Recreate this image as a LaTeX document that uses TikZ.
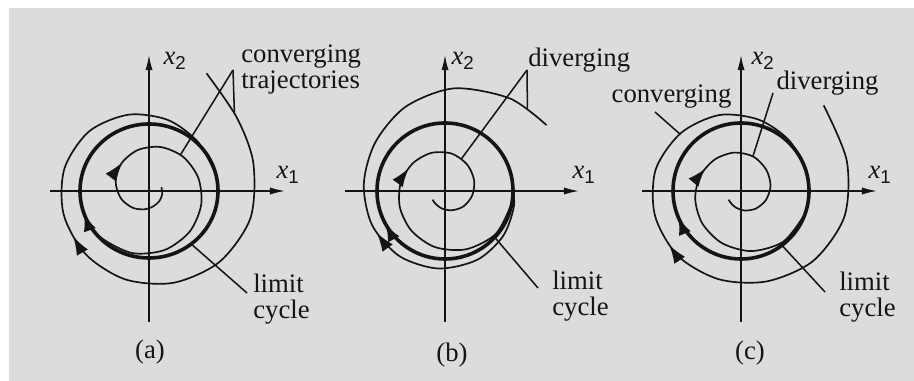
\documentclass[tikz,border=0pt]{standalone}
\usepackage{fontspec}
\setmainfont{Liberation Serif}
\setsansfont{Liberation Sans}
\newfontfamily\lblserif{Liberation Serif}
\usepackage{xcolor}
\definecolor{plategray}{HTML}{DCDCDC}
\definecolor{inkblack}{HTML}{141414}
\usepackage{tikz}
\usetikzlibrary{arrows.meta, decorations.markings}
\newcommand{\xlab}[1]{{\itshape x}\textsubscript{\sffamily #1}}

\begin{document}
\begin{tikzpicture}[x=0.25mm, y=0.25mm,
  axis/.style={draw=inkblack, line width=0.36mm, -{Latex[length=3.8mm, width=1.8mm]}},
  traj/.style={draw=inkblack, line width=0.42mm},
  limcyc/.style={draw=inkblack, line width=0.9mm},
  ptr/.style={draw=inkblack, line width=0.38mm},
  flow/.style={postaction={decorate}, decoration={markings,
    mark=at position #1 with {\arrow{Latex[length=4.6mm, width=3.2mm]}}}},
  lbl/.style={font=\lblserif\fontsize{19}{18.5}\selectfont, inner sep=0pt, align=left, text=inkblack},
  axlbl/.style={font=\lblserif\fontsize{19}{18.5}\selectfont, inner sep=0pt, text=inkblack}
]
\useasboundingbox (0,0) rectangle (914,381);
\fill[white] (0,0) rectangle (914,381);
\fill[plategray] (9,0) rectangle (914,373);

% (a) stable limit cycle
\begin{scope}[shift={(149,190)}]
\draw[axis] (-99,0) -- (136,0);
\draw[axis] (0,-131) -- (0,136);
\node[axlbl] (a-x1) at (139,16) {\xlab{1}};
\node[axlbl] (a-x2) at (26,130) {\xlab{2}};
\draw[limcyc, flow=0.448] (69,0) arc[start angle=0, end angle=-360, x radius=69, y radius=67];
\draw[traj, flow=0.262] plot[smooth] coordinates {(17:13) (-15:13.6) (-45:14.5) (-75:16) (-105:19)
  (-135:23.5) (-165:29) (-195:34.5) (-225:39) (-255:42.5) (-285:45.5) (-315:48.3) (-345:51)
  (-375:54) (-405:57.5) (-435:61) (-465:64.3) (-495:66.8) (-515:68.5)};
\draw[traj, flow=0.583] plot[smooth] coordinates {(64:131) (40:114.5) (15:108) (-15:105) (-45:100)
  (-75:95) (-105:91.5) (-135:89.5) (-165:88.5) (-195:87.5) (-225:84.5) (-255:79) (-285:73.5)
  (-315:69.3) (-345:68.8)};
\coordinate (a-apex) at (84,121);
\coordinate (a-in) at (-311:48);
\coordinate (a-out) at (42:115);
\coordinate (a-lc) at (-51.5:67.8);
\coordinate (a-lcend) at (98,-102);
\node[lbl, anchor=west] (a-conv) at (92,121) {converging\\trajectories};
\node[lbl, anchor=west] (a-limit) at (104,-108.5) {limit\\cycle};
\draw[ptr] (a-apex) -- (a-in);
\draw[ptr] (a-apex) -- (a-out);
\draw[ptr] (a-lc) -- (a-lcend);
\node[lbl] (a-cap) at (1,-161) {(a)};
\end{scope}

% (b) unstable limit cycle
\begin{scope}[shift={(445,190)}]
\draw[axis] (-100,0) -- (134,0);
\draw[axis] (0,-131) -- (0,136);
\node[axlbl] (b-x1) at (139,16) {\xlab{1}};
\node[axlbl] (b-x2) at (18,130) {\xlab{2}};
\draw[limcyc, flow=0.422] (68,0) arc[start angle=0, end angle=-360, radius=68];
\draw[traj, flow=0.567] plot[smooth] coordinates {(-10:68) (-40:66.5) (-70:62) (-100:57) (-130:52)
  (-160:48) (-190:45) (-220:42.5) (-250:40.5) (-280:38) (-310:34.5) (-340:31) (-370:27.5)
  (-400:24) (-430:20.5) (-460:17.8) (-490:15.8) (-505:15)};
\draw[traj, flow=0.415] plot[smooth] coordinates {(12:68) (-12:70.5) (-38:73.5) (-65:76) (-95:77.8)
  (-125:79.5) (-155:80.5) (-185:81.5) (-215:85) (-245:93) (-275:103) (-305:113) (-327:121)};
\coordinate (b-apex) at (82,121);
\coordinate (b-in) at (-297:36);
\coordinate (b-out) at (-315:116.6);
\coordinate (b-lc) at (-43:68);
\coordinate (b-lcend) at (93,-97);
\node[lbl, anchor=west] (b-div) at (83,131) {diverging};
\node[lbl, anchor=west] (b-limit) at (107,-105.5) {limit\\cycle};
\draw[ptr] (b-apex) -- (b-in);
\draw[ptr] (b-apex) -- (b-out);
\draw[ptr] (b-lc) -- (b-lcend);
\node[lbl] (b-cap) at (7,-164) {(b)};
\end{scope}

% (c) semi-stable limit cycle
\begin{scope}[shift={(741,190)}]
\draw[axis] (-99,0) -- (136,0);
\draw[axis] (0,-131) -- (0,136);
\node[axlbl] (c-x1) at (139,16) {\xlab{1}};
\node[axlbl] (c-x2) at (22,130) {\xlab{2}};
\draw[limcyc, flow=0.439] (68,0) arc[start angle=0, end angle=-360, radius=68];
\draw[traj, flow=0.555] plot[smooth] coordinates {(-20:68) (-50:66) (-80:61) (-110:55.5) (-140:50.5)
  (-170:46.5) (-200:43.5) (-230:41) (-260:39) (-290:36.5) (-320:33) (-350:30) (-380:26.5)
  (-410:23) (-440:19.8) (-470:17.2) (-495:15.5) (-505:15)};
\draw[traj, flow=0.541] plot[smooth] coordinates {(46:119) (16:110) (-14:106.5) (-44:100.5) (-74:94)
  (-104:91) (-134:90.5) (-164:89.5) (-194:88) (-224:83.5) (-254:79) (-284:73.5) (-314:69.8) (-345:68.3)};
\coordinate (c-cstart) at (-86,79);
\coordinate (c-out) at (-223:83.6);
\coordinate (c-dstart) at (32,98);
\coordinate (c-in) at (-289:36.6);
\coordinate (c-lc) at (-53:68);
\coordinate (c-lcend) at (84,-101);
\node[lbl] (c-conv) at (-69.5,94) {converging};
\node[lbl] (c-div) at (86.5,108) {diverging};
\node[lbl, anchor=west] (c-limit) at (98,-106.5) {limit\\cycle};
\draw[ptr] (c-cstart) -- (c-out);
\draw[ptr] (c-dstart) -- (c-in);
\draw[ptr] (c-lc) -- (c-lcend);
\node[lbl] (c-cap) at (9,-162) {(c)};
\end{scope}
\end{tikzpicture}
\end{document}
